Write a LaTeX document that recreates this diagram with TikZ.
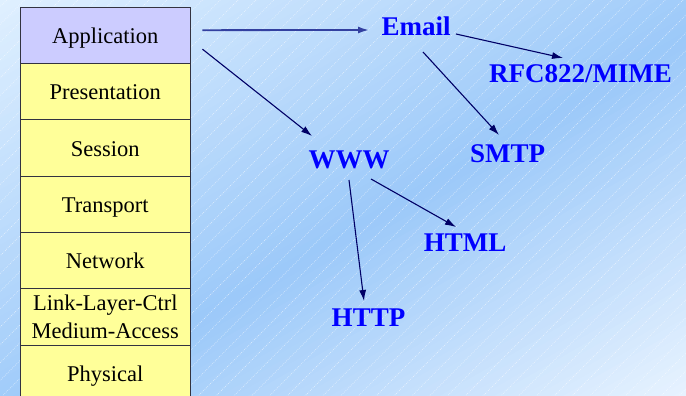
\documentclass[tikz,border=0pt]{standalone}
\usepackage{fontspec}
\setmainfont{Liberation Serif}
\usetikzlibrary{arrows.meta}

\definecolor{bgA}{HTML}{E0F0FF}
\definecolor{bgB}{HTML}{9CC9F9}
\definecolor{bgC}{HTML}{E8F3FF}
\definecolor{appfill}{HTML}{CCCCFF}
\definecolor{layerfill}{HTML}{FFFF99}
\definecolor{boxline}{HTML}{333340}
\definecolor{navy}{HTML}{000066}
\definecolor{mainarrow}{HTML}{3340A0}
\definecolor{termblue}{HTML}{0000FF}

\begin{document}
\begin{tikzpicture}[x=1pt,y=-1pt,
  layer/.style={draw=boxline, line width=0.9pt, fill=layerfill,
    minimum width=169.5pt, minimum height=56.33pt, inner sep=0pt,
    font=\fontsize{22.5}{28}\selectfont, align=center, anchor=center},
  oneline/.style={text height=16.4pt, text depth=0pt},
  term/.style={font=\fontsize{27}{32}\selectfont\bfseries, text=termblue,
    inner sep=0pt, anchor=base},
  link/.style={draw=navy, line width=1.1pt, -{Latex[length=11pt,width=7pt]}},
  mainlink/.style={link, draw=mainarrow, line width=1.8pt},
  stripe/.style={white, opacity=0.6, line width=0.6pt, dash pattern=on 0.8pt off 1.2pt},
]
\useasboundingbox (0,0) rectangle (686,396);
\clip (0,0) rectangle (686,396);

% diagonal background gradient: light corners, darker band along the anti-diagonal
\begin{scope}[x=686pt,y=-396pt]
  \foreach \i in {0,...,99}{
    \pgfmathsetmacro\sa{\i*0.02}
    \pgfmathsetmacro\sb{\i*0.02+0.025}
    \pgfmathsetmacro\sm{\i*0.02+0.01}
    \ifdim\sm pt<1.1pt
      \pgfmathtruncatemacro\pc{100-100*\sm/1.1}
      \fill[bgA!\pc!bgB] (\sa,0) -- (\sb,0) -- (\sb-1,1) -- (\sa-1,1) -- cycle;
    \else
      \pgfmathtruncatemacro\pc{100*(\sm-1.1)/0.9}
      \fill[bgC!\pc!bgB] (\sa,0) -- (\sb,0) -- (\sb-1,1) -- (\sa-1,1) -- cycle;
    \fi
  }
\end{scope}

% fine dotted diagonal hatching
\foreach \k in {0,...,62}{
  \pgfmathsetmacro\c{6.7+\k*17.8}
  \draw[stripe] (\c,0) -- (\c-400,400);
}

% protocol layer stack
\node[layer, oneline, fill=appfill] (app)  at (105.25, 35.17) {Application};
\node[layer, oneline] (pres) at (105.25, 91.50) {Presentation};
\node[layer, oneline] (sess) at (105.25,147.83) {Session};
\node[layer, oneline] (trans) at (105.25,204.17) {Transport};
\node[layer, oneline] (net)  at (105.25,260.50) {Network};
\node[layer] (llc)  at (105.25,316.83) {Link-Layer-Ctrl\\Medium-Access};
\node[layer, oneline] (phys) at (105.25,373.17) {Physical};

% application protocols
\node[term] (email) at (416,36)    {Email};
\node[term] (rfc)   at (580.5,82)  {RFC822/MIME};
\node[term] (smtp)  at (507.5,162) {SMTP};
\node[term] (www)   at (349,168)   {WWW};
\node[term] (html)  at (465,251)   {HTML};
\node[term] (http)  at (368.5,326) {HTTP};

% connectors
\draw[mainlink] ([shift={(12,-5)}]app.east) -- ([shift={(-47,-6)}]email.base);
\draw[link] ([shift={(12,14)}]app.east) -- ([shift={(-37,-32)}]www.base);
\draw[link] ([shift={(40,-2)}]email.base) -- ([shift={(-17.5,-24)}]rfc.base);
\draw[link] ([shift={(7,16)}]email.base) -- ([shift={(-8.5,-27)}]smtp.base);
\draw[link] ([shift={(22,11)}]www.base) -- ([shift={(-9,-24)}]html.base);
\draw[link] ([shift={(0,12)}]www.base) -- ([shift={(-4.5,-25)}]http.base);
\end{tikzpicture}
\end{document}
